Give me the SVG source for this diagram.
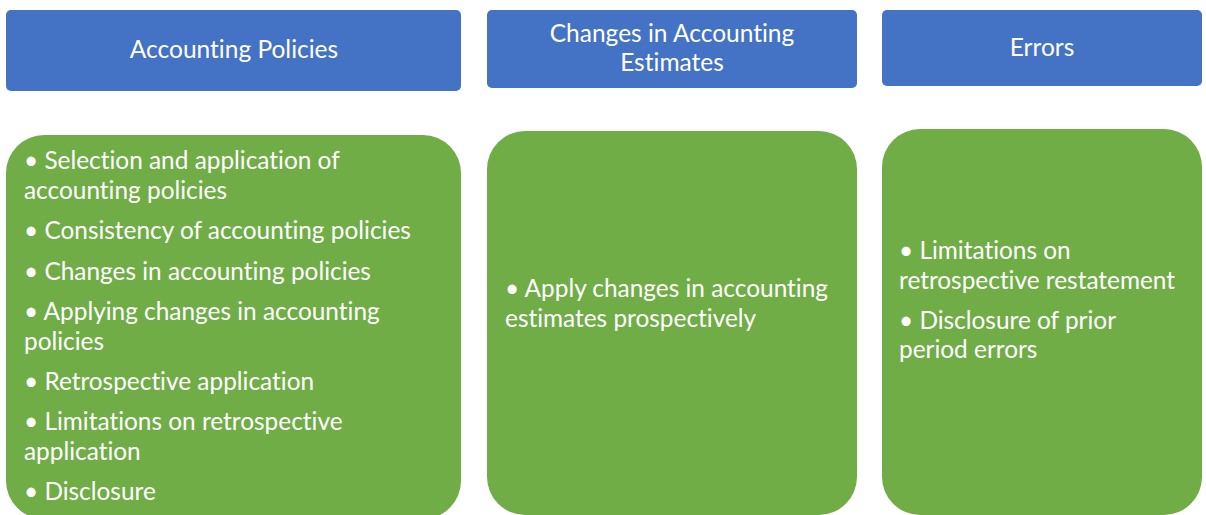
<svg xmlns="http://www.w3.org/2000/svg" width="1206" height="515" viewBox="0 0 1206 515">
<style>
.hdr{fill:#4472C4}
.body{fill:#70AD47}
.ht{font-family:Lato,"Open Sans","Liberation Sans",sans-serif;font-size:24.5px;fill:#fff;text-anchor:middle;font-variant-ligatures:none}
.bt{font-family:Lato,"Open Sans","Liberation Sans",sans-serif;font-size:24.4px;fill:#fff;font-variant-ligatures:none}
</style>
<rect width="1206" height="515" fill="#fff"/>
<g id="connectors"></g>
<g id="hdr-policies">
<rect class="hdr" x="6" y="10" width="455" height="81" rx="5"/>
<text class="ht" x="234" y="58">Accounting Policies</text>
</g>
<g id="hdr-estimates">
<rect class="hdr" x="487" y="10" width="370" height="78" rx="5"/>
<text class="ht" x="672" y="42">Changes in Accounting</text>
<text class="ht" x="672" y="71">Estimates</text>
</g>
<g id="hdr-errors">
<rect class="hdr" x="882" y="10" width="320" height="76" rx="5"/>
<text class="ht" x="1042" y="56">Errors</text>
</g>
<g id="body-policies">
<rect class="body" x="6" y="135" width="455" height="384" rx="38"/>
<text class="bt" x="24" y="169">• Selection and application of</text>
<text class="bt" x="24" y="199">accounting policies</text>
<text class="bt" x="24" y="239">• Consistency of accounting policies</text>
<text class="bt" x="24" y="280">• Changes in accounting policies</text>
<text class="bt" x="24" y="320">• Applying changes in accounting</text>
<text class="bt" x="24" y="350">policies</text>
<text class="bt" x="24" y="390">• Retrospective application</text>
<text class="bt" x="24" y="430">• Limitations on retrospective</text>
<text class="bt" x="24" y="460">application</text>
<text class="bt" x="24" y="500">• Disclosure</text>
</g>
<g id="body-estimates">
<rect class="body" x="487" y="131" width="370" height="384" rx="38"/>
<text class="bt" x="505" y="297">• Apply changes in accounting</text>
<text class="bt" x="505" y="327">estimates prospectively</text>
</g>
<g id="body-errors">
<rect class="body" x="882" y="129" width="320" height="386" rx="38"/>
<text class="bt" x="899" y="259">• Limitations on</text>
<text class="bt" x="899" y="289">retrospective restatement</text>
<text class="bt" x="899" y="329">• Disclosure of prior</text>
<text class="bt" x="899" y="358">period errors</text>
</g>
</svg>
